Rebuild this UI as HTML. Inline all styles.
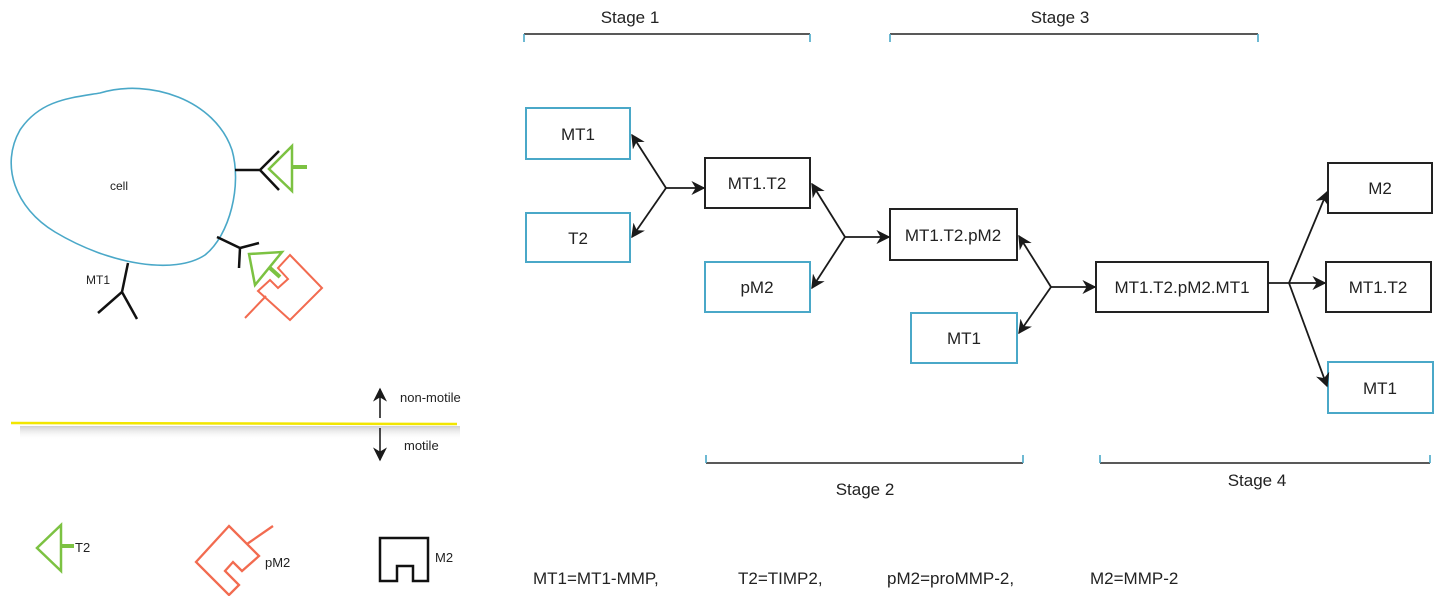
<!DOCTYPE html>
<html><head><meta charset="utf-8"><style>
html,body{margin:0;padding:0;background:#fff;}
svg{display:block;}
text{font-family:"Liberation Sans",sans-serif;fill:#222;}
</style></head><body>
<svg width="1439" height="596" viewBox="0 0 1439 596" xmlns="http://www.w3.org/2000/svg">
<defs>
<marker id="ah" viewBox="0 0 10 10" refX="9" refY="5" markerWidth="14" markerHeight="14" orient="auto-start-reverse" markerUnits="userSpaceOnUse">
<path d="M0,0 L10,5 L0,10 L3,5 Z" fill="#1a1a1a"/></marker>
<linearGradient id="sh" x1="0" y1="0" x2="0" y2="1"><stop offset="0" stop-color="#bbb" stop-opacity="0.7"/><stop offset="1" stop-color="#fff" stop-opacity="0"/></linearGradient>
</defs>

<!-- cell -->
<path d="M100,93 C150,78 215,100 232,150 C242,185 230,235 205,255 C175,275 110,265 55,232 C15,208 0,165 20,130 C40,100 70,98 100,93 Z" fill="none" stroke="#4aa8c8" stroke-width="1.6"/>
<text x="110" y="190" font-size="12">cell</text>
<g stroke="#111" stroke-width="2.5" fill="none">
<path d="M235,170 H260 L279,151 M260,170 L279,190"/>
<path d="M217,237 L240,248 L259,243 M240,248 L239,268"/>
<path d="M128,263 L122,292 L98,313 M122,292 L137,319"/>
</g>
<g stroke="#7cc242" stroke-width="2.5" fill="none">
<path d="M292,146 L269,169 L292,191 Z"/><path d="M292,167 H307" stroke-width="4"/>
<path d="M249,254 L282,252 L255,285 Z"/><path d="M270,268 L280,277" stroke-width="4"/>
</g>
<path d="M290,255 L322,288 L290,320 L258,291 L270,280 L278,288 L288,279 L278,268 Z M266,296 L245,318" fill="none" stroke="#f26b50" stroke-width="2"/>
<text x="86" y="284" font-size="12">MT1</text>

<!-- motility line -->
<rect x="20" y="426" width="440" height="14" fill="url(#sh)"/>
<line x1="11" y1="423" x2="457" y2="424" stroke="#f2e600" stroke-width="2.5"/>
<line x1="380" y1="418" x2="380" y2="389" stroke="#111" stroke-width="1.5" marker-end="url(#ah)"/>
<line x1="380" y1="428" x2="380" y2="460" stroke="#111" stroke-width="1.5" marker-end="url(#ah)"/>
<text x="400" y="402" font-size="13">non-motile</text>
<text x="404" y="450" font-size="13">motile</text>

<!-- legend -->
<g stroke="#7cc242" stroke-width="2.5" fill="none"><path d="M61,525 L37,548 L61,571 Z"/><path d="M61,546 H74" stroke-width="4"/></g>
<text x="75" y="552" font-size="13">T2</text>
<path d="M229,526 L259,556 L242,571 L233,562 L225,571 L239,585 L229,595 L196,562 Z M247,544 L273,526" fill="none" stroke="#f26b50" stroke-width="2.3"/>
<text x="265" y="567" font-size="13">pM2</text>
<path d="M380,538 H428 V581 H413 V566 H397 V581 H380 Z" fill="none" stroke="#111" stroke-width="2.5"/>
<text x="435" y="562" font-size="13">M2</text>

<!-- stage brackets -->
<g stroke="#222" stroke-width="1.6" fill="none">
<path d="M524,34 H810"/><path d="M890,34 H1258"/><path d="M706,463 H1023"/><path d="M1100,463 H1430"/>
</g>
<g stroke="#4aa8c8" stroke-width="1.6">
<path d="M524,34 V42 M810,34 V42 M890,34 V42 M1258,34 V42 M706,463 V455 M1023,463 V455 M1100,463 V455 M1430,463 V455"/>
</g>
<text x="630" y="23" font-size="17" text-anchor="middle">Stage 1</text>
<text x="1060" y="23" font-size="17" text-anchor="middle">Stage 3</text>
<text x="865" y="495" font-size="17" text-anchor="middle">Stage 2</text>
<text x="1257" y="486" font-size="17" text-anchor="middle">Stage 4</text>

<!-- boxes -->
<g fill="#fff" stroke-width="2">
<rect x="526" y="108" width="104" height="51" stroke="#4aa8c8"/>
<rect x="526" y="213" width="104" height="49" stroke="#4aa8c8"/>
<rect x="705" y="158" width="105" height="50" stroke="#222"/>
<rect x="705" y="262" width="105" height="50" stroke="#4aa8c8"/>
<rect x="890" y="209" width="127" height="51" stroke="#222"/>
<rect x="911" y="313" width="106" height="50" stroke="#4aa8c8"/>
<rect x="1096" y="262" width="172" height="50" stroke="#222"/>
<rect x="1328" y="163" width="104" height="50" stroke="#222"/>
<rect x="1326" y="262" width="105" height="50" stroke="#222"/>
<rect x="1328" y="362" width="105" height="51" stroke="#4aa8c8"/>
</g>
<g font-size="17" text-anchor="middle">
<text x="578" y="140">MT1</text>
<text x="578" y="244">T2</text>
<text x="757" y="189">MT1.T2</text>
<text x="757" y="293">pM2</text>
<text x="953" y="241">MT1.T2.pM2</text>
<text x="964" y="344">MT1</text>
<text x="1182" y="293">MT1.T2.pM2.MT1</text>
<text x="1380" y="194">M2</text>
<text x="1378" y="293">MT1.T2</text>
<text x="1380" y="394">MT1</text>
</g>

<!-- connectors -->
<g stroke="#1a1a1a" stroke-width="1.8" fill="none">
<line x1="666" y1="188" x2="632" y2="135" marker-end="url(#ah)"/>
<line x1="666" y1="188" x2="632" y2="237" marker-end="url(#ah)"/>
<line x1="666" y1="188" x2="704" y2="188" marker-end="url(#ah)"/>
<line x1="845" y1="237" x2="812" y2="184" marker-end="url(#ah)"/>
<line x1="845" y1="237" x2="812" y2="288" marker-end="url(#ah)"/>
<line x1="845" y1="237" x2="889" y2="237" marker-end="url(#ah)"/>
<line x1="1051" y1="287" x2="1019" y2="236" marker-end="url(#ah)"/>
<line x1="1051" y1="287" x2="1019" y2="333" marker-end="url(#ah)"/>
<line x1="1051" y1="287" x2="1095" y2="287" marker-end="url(#ah)"/>
<line x1="1268" y1="283" x2="1289" y2="283"/>
<line x1="1289" y1="283" x2="1327" y2="192" marker-end="url(#ah)"/>
<line x1="1289" y1="283" x2="1325" y2="283" marker-end="url(#ah)"/>
<line x1="1289" y1="283" x2="1327" y2="386" marker-end="url(#ah)"/>
</g>

<!-- footer -->
<g font-size="17">
<text x="533" y="584">MT1=MT1-MMP,</text>
<text x="738" y="584">T2=TIMP2,</text>
<text x="887" y="584">pM2=proMMP-2,</text>
<text x="1090" y="584">M2=MMP-2</text>
</g>
</svg>
</body></html>
